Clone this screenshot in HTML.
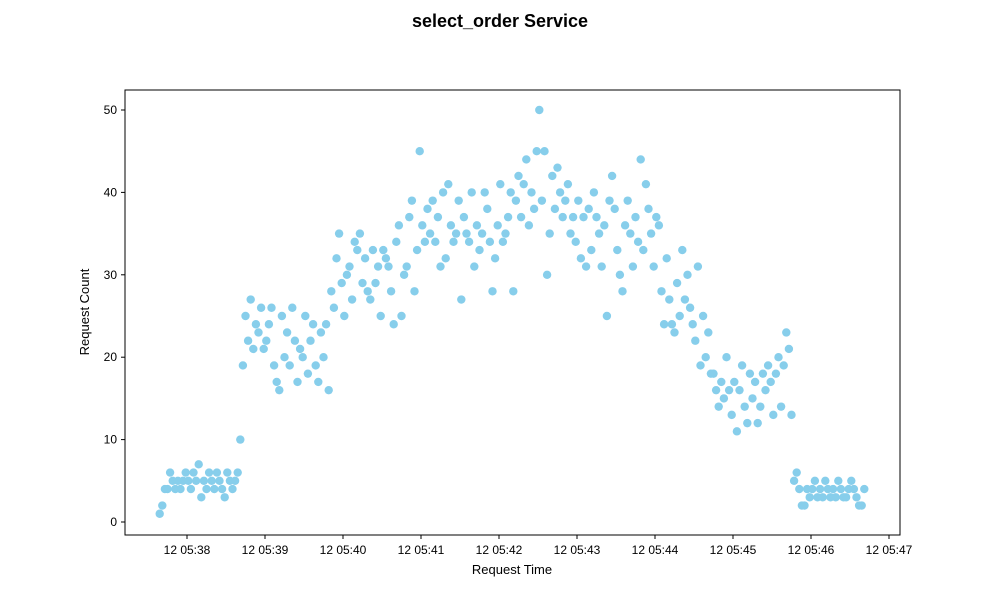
<!DOCTYPE html>
<html><head><meta charset="utf-8"><style>
body{margin:0;background:#fff;font-family:"Liberation Sans",sans-serif;}
</style></head><body>
<svg id="chart" width="1000" height="600" xmlns="http://www.w3.org/2000/svg" font-family="Liberation Sans, sans-serif">
<rect width="1000" height="600" fill="#fff"/>
<text x="500" y="27" text-anchor="middle" font-size="18" font-weight="bold">select_order Service</text>
<g id="points"></g>
<rect x="125" y="90" width="775" height="445" fill="none" stroke="#000" stroke-width="1"/>
<g id="xaxis"></g>
<g id="yaxis"></g>
<text x="512" y="574" text-anchor="middle" font-size="13">Request Time</text>
<text transform="translate(89,312) rotate(-90)" text-anchor="middle" font-size="13">Request Count</text>
</svg>
<script>
const startSec = -21;
const intervalSec = 2;
const requestCounts = [1,2,4,4,6,5,4,5,4,5,6,5,4,6,5,7,3,5,4,6,5,4,6,5,4,3,6,5,4,5,6,
10,
19,25,22,27,21,24,23,26,21,22,24,26,19,17,16,25,20,23,19,26,22,17,21,
20,25,18,22,24,19,17,23,20,24,16,28,26,32,35,29,25,
30,31,27,34,33,35,29,32,28,27,33,29,31,25,33,32,31,28,24,34,36,25,30,31,37,39,28,33,45,
36,34,38,35,39,34,37,31,40,32,41,36,34,35,39,27,37,35,34,40,31,36,33,35,40,38,34,28,32,36,41,34,35,37,40,28,39,42,37,41,44,36,40,38,45,50,39,45,30,35,
42,38,43,40,37,39,41,35,37,34,39,32,37,31,38,33,40,37,35,31,36,25,39,42,38,33,30,28,36,39,35,31,37,34,44,
33,41,38,35,31,37,36,28,24,32,27,24,23,29,25,33,27,30,26,24,22,31,19,25,20,23,18,
18,16,14,17,15,20,16,13,17,11,16,19,14,12,18,15,17,12,14,18,16,19,17,13,18,20,14,19,23,21,
13,5,6,4,2,2,4,3,4,5,3,4,3,5,4,3,4,3,5,4,3,3,4,5,4,3,2,2,4];
const xTickLabels = ["12 05:38","12 05:39","12 05:40","12 05:41","12 05:42","12 05:43","12 05:44","12 05:45","12 05:46","12 05:47"];
const yTicks = [0,10,20,30,40,50];

const NS="http://www.w3.org/2000/svg";
function xScale(sec){return 187 + sec*78/60;}
function yScale(v){return 522 - v*8.24;}
const pts=document.getElementById('points');
requestCounts.forEach((v,i)=>{
  const c=document.createElementNS(NS,'circle');
  c.setAttribute('cx',xScale(startSec+i*intervalSec));
  c.setAttribute('cy',yScale(v));
  c.setAttribute('r',4.2);
  c.setAttribute('fill','#87ceeb');
  
  
  pts.appendChild(c);
});
const xa=document.getElementById('xaxis');
xTickLabels.forEach((lab,k)=>{
  const x=xScale(k*60);
  const l=document.createElementNS(NS,'line');
  l.setAttribute('x1',x);l.setAttribute('x2',x);l.setAttribute('y1',535);l.setAttribute('y2',539);l.setAttribute('stroke','#000');
  
  
  xa.appendChild(l);
  const t=document.createElementNS(NS,'text');
  t.setAttribute('x',x);t.setAttribute('y',554);t.setAttribute('text-anchor','middle');t.setAttribute('font-size','12');
  t.textContent=lab;
  
  
  xa.appendChild(t);
});
const ya=document.getElementById('yaxis');
yTicks.forEach(v=>{
  const y=yScale(v);
  const l=document.createElementNS(NS,'line');
  l.setAttribute('x1',121);l.setAttribute('x2',125);l.setAttribute('y1',y);l.setAttribute('y2',y);l.setAttribute('stroke','#000');
  
  
  ya.appendChild(l);
  const t=document.createElementNS(NS,'text');
  t.setAttribute('x',117);t.setAttribute('y',y+4);t.setAttribute('text-anchor','end');t.setAttribute('font-size','12');
  t.textContent=v;
  
  
  ya.appendChild(t);
});
</script>
</body></html>
